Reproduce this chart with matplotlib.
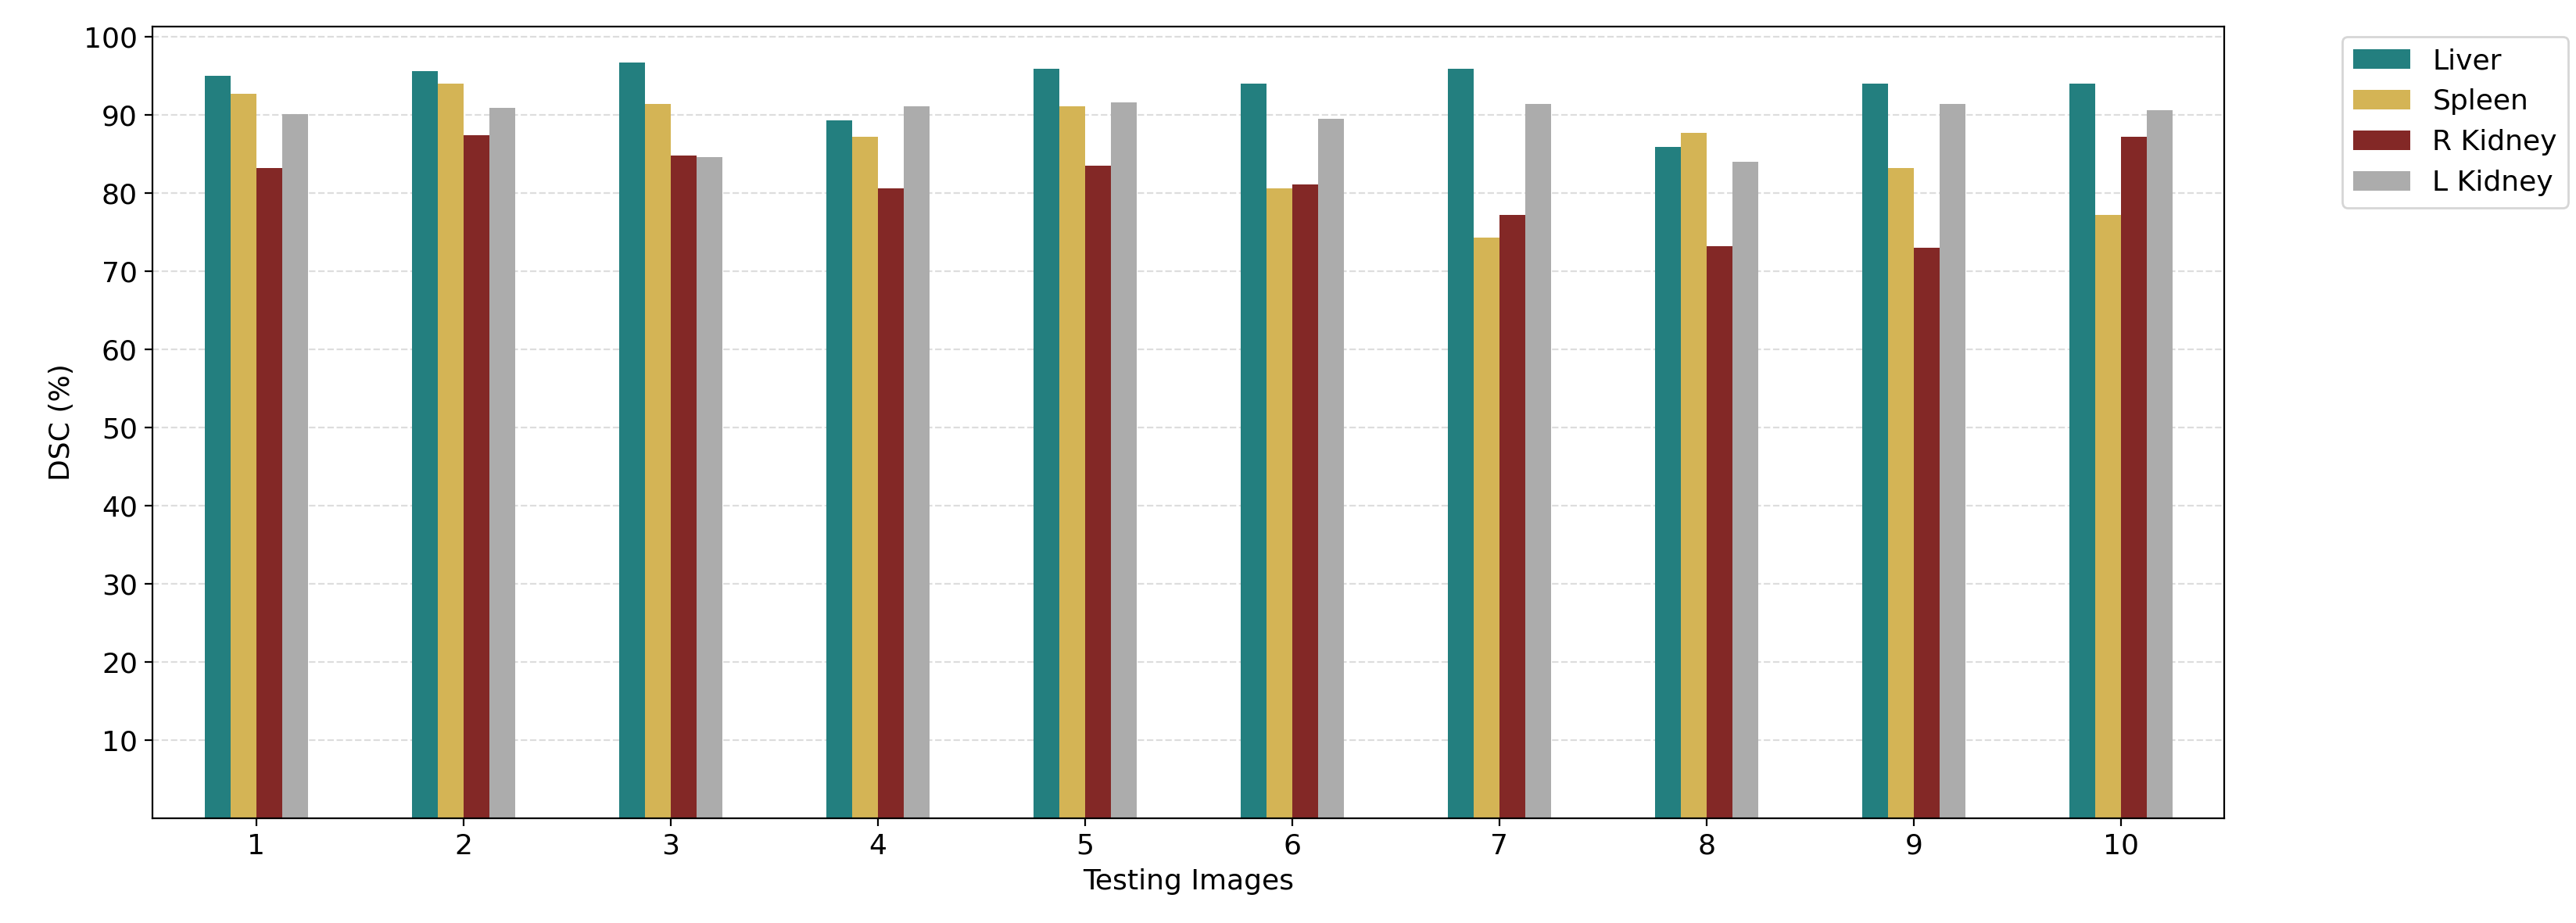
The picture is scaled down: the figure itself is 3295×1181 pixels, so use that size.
import numpy as np
import matplotlib.pyplot as plt

images = np.arange(1, 11)
liver = [95.0, 95.6, 96.7, 89.3, 95.9, 94.0, 95.9, 85.9, 94.0, 94.0]
spleen = [92.7, 94.0, 91.4, 87.2, 91.1, 80.6, 74.3, 87.7, 83.2, 77.2]
r_kidney = [83.2, 87.4, 84.8, 80.6, 83.5, 81.1, 77.2, 73.2, 73.0, 87.2]
l_kidney = [90.1, 90.9, 84.6, 91.1, 91.6, 89.5, 91.4, 84.0, 91.4, 90.6]

series = [('Liver', liver, '#237f7f'),
          ('Spleen', spleen, '#d4b455'),
          ('R Kidney', r_kidney, '#832826'),
          ('L Kidney', l_kidney, '#acacac')]

plt.rcParams['font.size'] = 13

fig = plt.figure(figsize=(16.475, 5.905), dpi=200)
ax = fig.add_axes([93/1568, 1 - 498/562, (1354-93)/1568, (498-16)/562])

width = 0.125
for i, (name, vals, col) in enumerate(series):
    ax.bar(images + (i - 1.5) * width, vals, width, color=col, label=name, zorder=2)

ax.set_xlim(0.5, 10.5)
ax.set_ylim(0, 101.3)
ax.set_xticks(images)
ax.set_yticks(np.arange(10, 101, 10))
ax.grid(axis='y', linestyle='--', color='#dddddd', linewidth=0.8, zorder=0)
ax.set_xlabel('Testing Images')
ax.set_ylabel('DSC (%)')
ax.legend(loc='upper left', bbox_to_anchor=(1.05, 1.005))

fig.savefig('out.png')
